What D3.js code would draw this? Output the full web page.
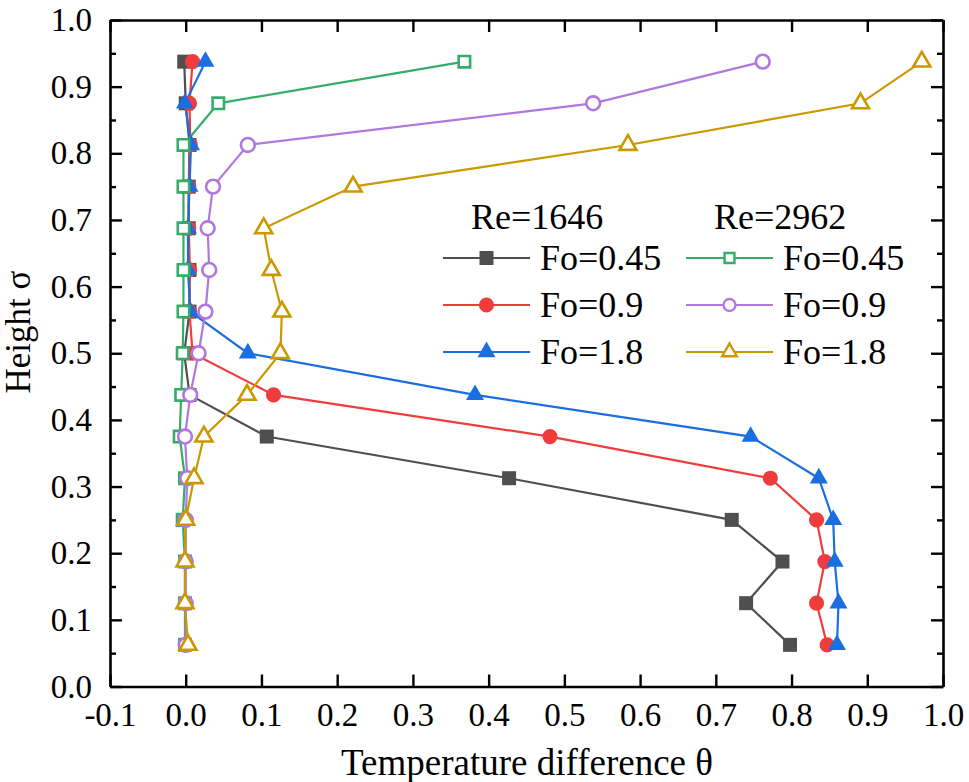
<!DOCTYPE html>
<html><head><meta charset="utf-8">
<script src="https://cdn.jsdelivr.net/npm/d3@7"></script>
<style>body{margin:0;background:#fff}svg{display:block}text{font-family:"Liberation Serif","Times New Roman",serif;fill:#000}</style>
</head><body><div id="chart"></div>
<script>
const sigma = [0.0625,0.125,0.1875,0.25,0.3125,0.375,0.4375,0.5,0.5625,0.625,0.6875,0.75,0.8125,0.875,0.9375];
const re1646_fo045 = [0.798,0.740,0.788,0.721,0.427,0.107,0.005,-0.002,0.005,0.005,0.004,0.004,0.005,0.000,-0.002];
const re1646_fo09  = [0.847,0.833,0.844,0.833,0.772,0.481,0.116,0.009,0.005,0.005,0.004,0.004,0.006,0.005,0.009];
const re1646_fo18  = [0.860,0.862,0.857,0.855,0.836,0.746,0.382,0.082,0.006,0.003,0.003,0.005,0.007,-0.001,0.026];
const re2962_fo045 = [-0.001,-0.001,-0.001,-0.004,-0.001,-0.008,-0.006,-0.004,-0.003,-0.003,-0.003,-0.003,-0.003,0.043,0.368];
const re2962_fo09  = [0.000,0.000,0.000,0.000,0.002,-0.001,0.006,0.017,0.026,0.031,0.029,0.036,0.082,0.538,0.762];
const re2962_fo18  = [0.003,-0.001,-0.001,0.000,0.011,0.024,0.081,0.125,0.127,0.113,0.103,0.221,0.584,0.891,0.972];
const seriesLabels = ["Fo=0.45","Fo=0.9","Fo=1.8","Fo=0.45","Fo=0.9","Fo=1.8"];
const groupLabels = ["Re=1646","Re=2962"];
const xTicks = [-0.1,0.0,0.1,0.2,0.3,0.4,0.5,0.6,0.7,0.8,0.9,1.0];
const yTicks = [0.0,0.1,0.2,0.3,0.4,0.5,0.6,0.7,0.8,0.9,1.0];
const yMinor = [0.05,0.15,0.25,0.35,0.45,0.55,0.65,0.75,0.85,0.95];

const series = [
  {vals: re1646_fo045, color:"#4f4f4f", sym:d3.symbolSquare, size:196, open:false},
  {vals: re1646_fo09,  color:"#f03c3c", sym:d3.symbolCircle, size:180, open:false},
  {vals: re1646_fo18,  color:"#1a6edf", sym:d3.symbolTriangle, size:140, open:false},
  {vals: re2962_fo045, color:"#36ac6a", sym:d3.symbolSquare, size:130, open:true},
  {vals: re2962_fo09,  color:"#b077de", sym:d3.symbolCircle, size:150, open:true},
  {vals: re2962_fo18,  color:"#cc9800", sym:d3.symbolTriangle, size:125, open:true}
];
series.forEach((s,i)=>s.label=seriesLabels[i]);

const FONT="'Liberation Serif','Times New Roman',serif";
const W=969,H=782;
const svg=d3.select("#chart").append("svg").attr("width",W).attr("height",H).attr("font-family",FONT);
const x=d3.scaleLinear().domain([-0.1,1.0]).range([110,943]);
const y=d3.scaleLinear().domain([0,1]).range([686.5,20]);
const fmt=d=>d3.format(".1f")(d).replace("\u2212","-");

// data lines & markers
const line=d3.line().x(d=>x(d[0])).y(d=>y(d[1]));
series.forEach(s=>{
  const pts=s.vals.map((v,i)=>[v,sigma[i]]);
  svg.append("path").attr("d",line(pts)).attr("fill","none").attr("stroke",s.color).attr("stroke-width",2.2);
});
series.forEach(s=>{
  const pts=s.vals.map((v,i)=>[v,sigma[i]]);
  svg.append("g").selectAll("path").data(pts).join("path")
    .attr("transform",d=>`translate(${x(d[0])},${y(d[1])})`)
    .attr("d",d3.symbol().type(s.sym).size(s.size))
    .attr("fill",s.open?"#fff":s.color)
    .attr("stroke",s.open?s.color:"none")
    .attr("stroke-width",2.6);
});

// axes
function styleAxis(g){g.attr("font-family",FONT).attr("font-size",33);
  g.select(".domain").attr("stroke","#000").attr("stroke-width",2.6);
  g.selectAll(".tick line").attr("stroke","#000").attr("stroke-width",2.4);
  g.selectAll("text").attr("fill","#000");}
svg.append("g").attr("transform","translate(0,686.5)")
  .call(d3.axisBottom(x).tickValues(xTicks).tickFormat(fmt).tickSize(-12).tickPadding(16).tickSizeOuter(0)).call(styleAxis);
svg.append("g").attr("transform","translate(0,20)")
  .call(d3.axisTop(x).tickValues(xTicks).tickFormat("").tickSize(-12).tickSizeOuter(0)).call(styleAxis);
svg.append("g").attr("transform","translate(110,0)")
  .call(d3.axisLeft(y).tickValues(yTicks).tickFormat(fmt).tickSize(-12).tickPadding(18).tickSizeOuter(0)).call(styleAxis);
svg.append("g").attr("transform","translate(110,0)")
  .call(d3.axisLeft(y).tickValues(yMinor).tickFormat("").tickSize(-6).tickSizeOuter(0)).call(styleAxis).select(".domain").remove();
svg.append("g").attr("transform","translate(943,0)")
  .call(d3.axisRight(y).tickValues(yTicks).tickFormat("").tickSize(-12).tickSizeOuter(0)).call(styleAxis);
svg.append("g").attr("transform","translate(943,0)")
  .call(d3.axisRight(y).tickValues(yMinor).tickFormat("").tickSize(-6).tickSizeOuter(0)).call(styleAxis).select(".domain").remove();

// axis titles
svg.append("text").attr("x",527).attr("y",775).attr("text-anchor","middle").attr("font-size",37).text("Temperature difference θ");
svg.append("text").attr("transform","translate(30,332) rotate(-90)").attr("text-anchor","middle").attr("font-size",35).text("Height σ");

// legend
const colX=[443,686], rowY=[258,305,352];
groupLabels.forEach((g,i)=>{
  svg.append("text").attr("x",colX[i]+28).attr("y",229).attr("font-size",36).text(g);
});
series.forEach((s,i)=>{
  const c=Math.floor(i/3), r=i%3, lx=colX[c], ly=rowY[r];
  svg.append("line").attr("x1",lx).attr("x2",lx+87).attr("y1",ly).attr("y2",ly).attr("stroke",s.color).attr("stroke-width",2.2);
  svg.append("path").attr("transform",`translate(${lx+43.5},${ly})`)
    .attr("d",d3.symbol().type(s.sym).size(s.open?s.size*0.75:s.size))
    .attr("fill",s.open?"#fff":s.color).attr("stroke",s.open?s.color:"none").attr("stroke-width",2.4);
  svg.append("text").attr("x",lx+97).attr("y",ly+12).attr("font-size",36).text(s.label);
});
</script></body></html>
